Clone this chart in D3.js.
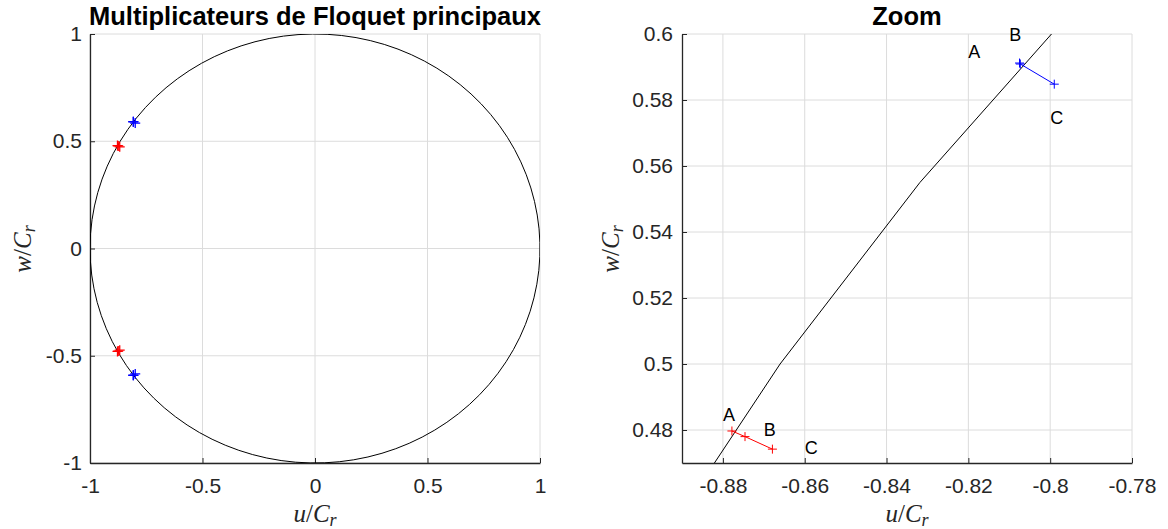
<!DOCTYPE html>
<html>
<head>
<meta charset="utf-8">
<script src="https://cdn.jsdelivr.net/npm/d3@7"></script>
<style>
  html, body { margin: 0; padding: 0; background: #fff; }
  svg { display: block; }
</style>
</head>
<body>
<svg id="fig" width="1168" height="529"></svg>
<script>
// Floquet multipliers (upper half-plane); the lower ones are their conjugates.
const pointNames = ["A", "B", "C"];
const redU  = [-0.8778, -0.8746, -0.8679];
const redW  = [ 0.4797,  0.4780,  0.4742];
const blueU = [-0.8075, -0.8073, -0.7990];
const blueW = [ 0.5912,  0.5909,  0.5848];

// Annotation anchors (left edge, vertical middle) in the zoom panel
const redLabelU  = [-0.880, -0.870, -0.860];
const redLabelW  = [ 0.4847, 0.4800, 0.4747];
const blueLabelU = [-0.820, -0.810, -0.800];
const blueLabelW = [ 0.5945, 0.5998, 0.5745];

// Axis ticks
const mainTicks = [-1, -0.5, 0, 0.5, 1];
const mainTickLabels = ["-1", "-0.5", "0", "0.5", "1"];
const zoomXTicks = [-0.88, -0.86, -0.84, -0.82, -0.80, -0.78];
const zoomXTickLabels = ["-0.88", "-0.86", "-0.84", "-0.82", "-0.8", "-0.78"];
const zoomYTicks = [0.48, 0.50, 0.52, 0.54, 0.56, 0.58, 0.60];
const zoomYTickLabels = ["0.48", "0.5", "0.52", "0.54", "0.56", "0.58", "0.6"];

// Unit circle, drawn as a polyline
const circleSegments = 97;
const circleStartDeg = 150;
const unitCircle = d3.range(circleSegments + 1).map(k => {
  const t = (circleStartDeg + k * 360 / circleSegments) * Math.PI / 180;
  return [Math.cos(t), Math.sin(t)];
});

const svg = d3.select("#fig");
const AXIS = "#262626", GRID = "#dcdcdc";
const SANS = "'Liberation Sans', Arial, Helvetica, sans-serif";
const SERIF = "'Liberation Serif', 'Times New Roman', serif";

function plusPath(x, y, a) {
  return `M${x - a},${y}H${x + a}M${x},${y - a}V${y + a}`;
}

function mathLabel(g, x, y, letter, rotate) {
  const t = g.append("text")
    .attr("x", x).attr("y", y)
    .attr("text-anchor", "middle")
    .attr("font-family", SERIF)
    .attr("font-size", 25)
    .attr("fill", AXIS);
  if (rotate) t.attr("transform", `rotate(-90,${x},${y})`);
  t.append("tspan").attr("font-style", "italic").text(letter);
  t.append("tspan").text("/");
  t.append("tspan").attr("font-style", "italic").text("C");
  t.append("tspan").attr("font-style", "italic").attr("font-size", 18).attr("dy", 4).text("r");
}

function panel(opts) {
  const { x0, x1, y0, y1, xDomain, yDomain, xTicks, xLabels, yTicks, yLabels, title, id, yPad } = opts;
  const x = d3.scaleLinear().domain(xDomain).range([x0, x1]);
  const y = d3.scaleLinear().domain(yDomain).range([y1, y0]);
  const g = svg.append("g");

  g.append("clipPath").attr("id", id).append("rect")
    .attr("x", x0).attr("y", y0).attr("width", x1 - x0).attr("height", y1 - y0);

  // grid
  g.append("g").selectAll("line").data(xTicks).join("line")
    .attr("x1", d => x(d)).attr("x2", d => x(d)).attr("y1", y0).attr("y2", y1)
    .attr("stroke", GRID).attr("stroke-width", 1);
  g.append("g").selectAll("line").data(yTicks).join("line")
    .attr("x1", x0).attr("x2", x1).attr("y1", d => y(d)).attr("y2", d => y(d))
    .attr("stroke", GRID).attr("stroke-width", 1);

  // axes (inward ticks, no box)
  const ax = g.append("g").attr("transform", `translate(0,${y1})`)
    .call(d3.axisBottom(x).tickValues(xTicks)
      .tickFormat((d, i) => xLabels[i]).tickSizeInner(-5).tickSizeOuter(0).tickPadding(15));
  const ay = g.append("g").attr("transform", `translate(${x0},0)`)
    .call(d3.axisLeft(y).tickValues(yTicks)
      .tickFormat((d, i) => yLabels[i]).tickSizeInner(-5).tickSizeOuter(0).tickPadding(yPad));
  [ax, ay].forEach(a => {
    a.select(".domain").attr("stroke", AXIS).attr("stroke-width", 1.3);
    a.selectAll(".tick line").attr("stroke", AXIS).attr("stroke-width", 1);
    a.selectAll(".tick text").attr("fill", AXIS).attr("font-size", 21).attr("font-family", SANS);
  });

  g.append("text")
    .attr("x", (x0 + x1) / 2).attr("y", 25)
    .attr("text-anchor", "middle")
    .attr("font-family", SANS).attr("font-weight", "bold").attr("font-size", 25.5)
    .attr("fill", "#000").text(title);

  const plot = g.append("g").attr("clip-path", `url(#${id})`);
  const line = d3.line().x(d => x(d[0])).y(d => y(d[1]));
  plot.append("path").datum(unitCircle).attr("d", line)
    .attr("fill", "none").attr("stroke", "#000").attr("stroke-width", 1);

  return { g, plot, x, y, line };
}

function drawSeries(p, us, ws, color, conj, arm, width) {
  const pts = us.map((u, i) => [u, ws[i]]);
  const sets = conj ? [pts, pts.map(d => [d[0], -d[1]])] : [pts];
  sets.forEach(s => {
    p.plot.append("path").datum(s).attr("d", p.line)
      .attr("fill", "none").attr("stroke", color).attr("stroke-width", 1);
    p.plot.append("g").selectAll("path").data(s).join("path")
      .attr("d", d => plusPath(p.x(d[0]), p.y(d[1]), arm))
      .attr("fill", "none").attr("stroke", color).attr("stroke-width", width);
  });
}

// Left: full unit circle
const left = panel({
  id: "clipMain", x0: 90, x1: 540, y0: 34, y1: 463,
  xDomain: [-1, 1], yDomain: [-1, 1],
  xTicks: mainTicks, xLabels: mainTickLabels, yTicks: mainTicks, yLabels: mainTickLabels,
  title: "Multiplicateurs de Floquet principaux", yPad: 8
});
drawSeries(left, redU, redW, "#ff0000", true, 5, 1.3);
drawSeries(left, blueU, blueW, "#0000ff", true, 5, 1.3);
mathLabel(svg, 315, 522, "u", false);
mathLabel(svg, 31, 249, "w", true);

// Right: zoom on the upper pair
const right = panel({
  id: "clipZoom", x0: 682, x1: 1132, y0: 34, y1: 463,
  xDomain: [-0.89, -0.78], yDomain: [0.47, 0.60],
  xTicks: zoomXTicks, xLabels: zoomXTickLabels, yTicks: zoomYTicks, yLabels: zoomYTickLabels,
  title: "Zoom", yPad: 9
});
drawSeries(right, redU, redW, "#ff0000", false, 4.5, 1);
drawSeries(right, blueU, blueW, "#0000ff", false, 4.5, 1);
mathLabel(svg, 907, 522, "u", false);
mathLabel(svg, 619, 249, "w", true);

[[redLabelU, redLabelW], [blueLabelU, blueLabelW]].forEach(([us, ws]) => {
  right.g.append("g").selectAll("text").data(pointNames).join("text")
    .attr("x", (d, i) => right.x(us[i]))
    .attr("y", (d, i) => right.y(ws[i]))
    .attr("dy", "0.35em")
    .attr("font-family", SANS).attr("font-size", 18).attr("fill", "#000")
    .text(d => d);
});
</script>
</body>
</html>
